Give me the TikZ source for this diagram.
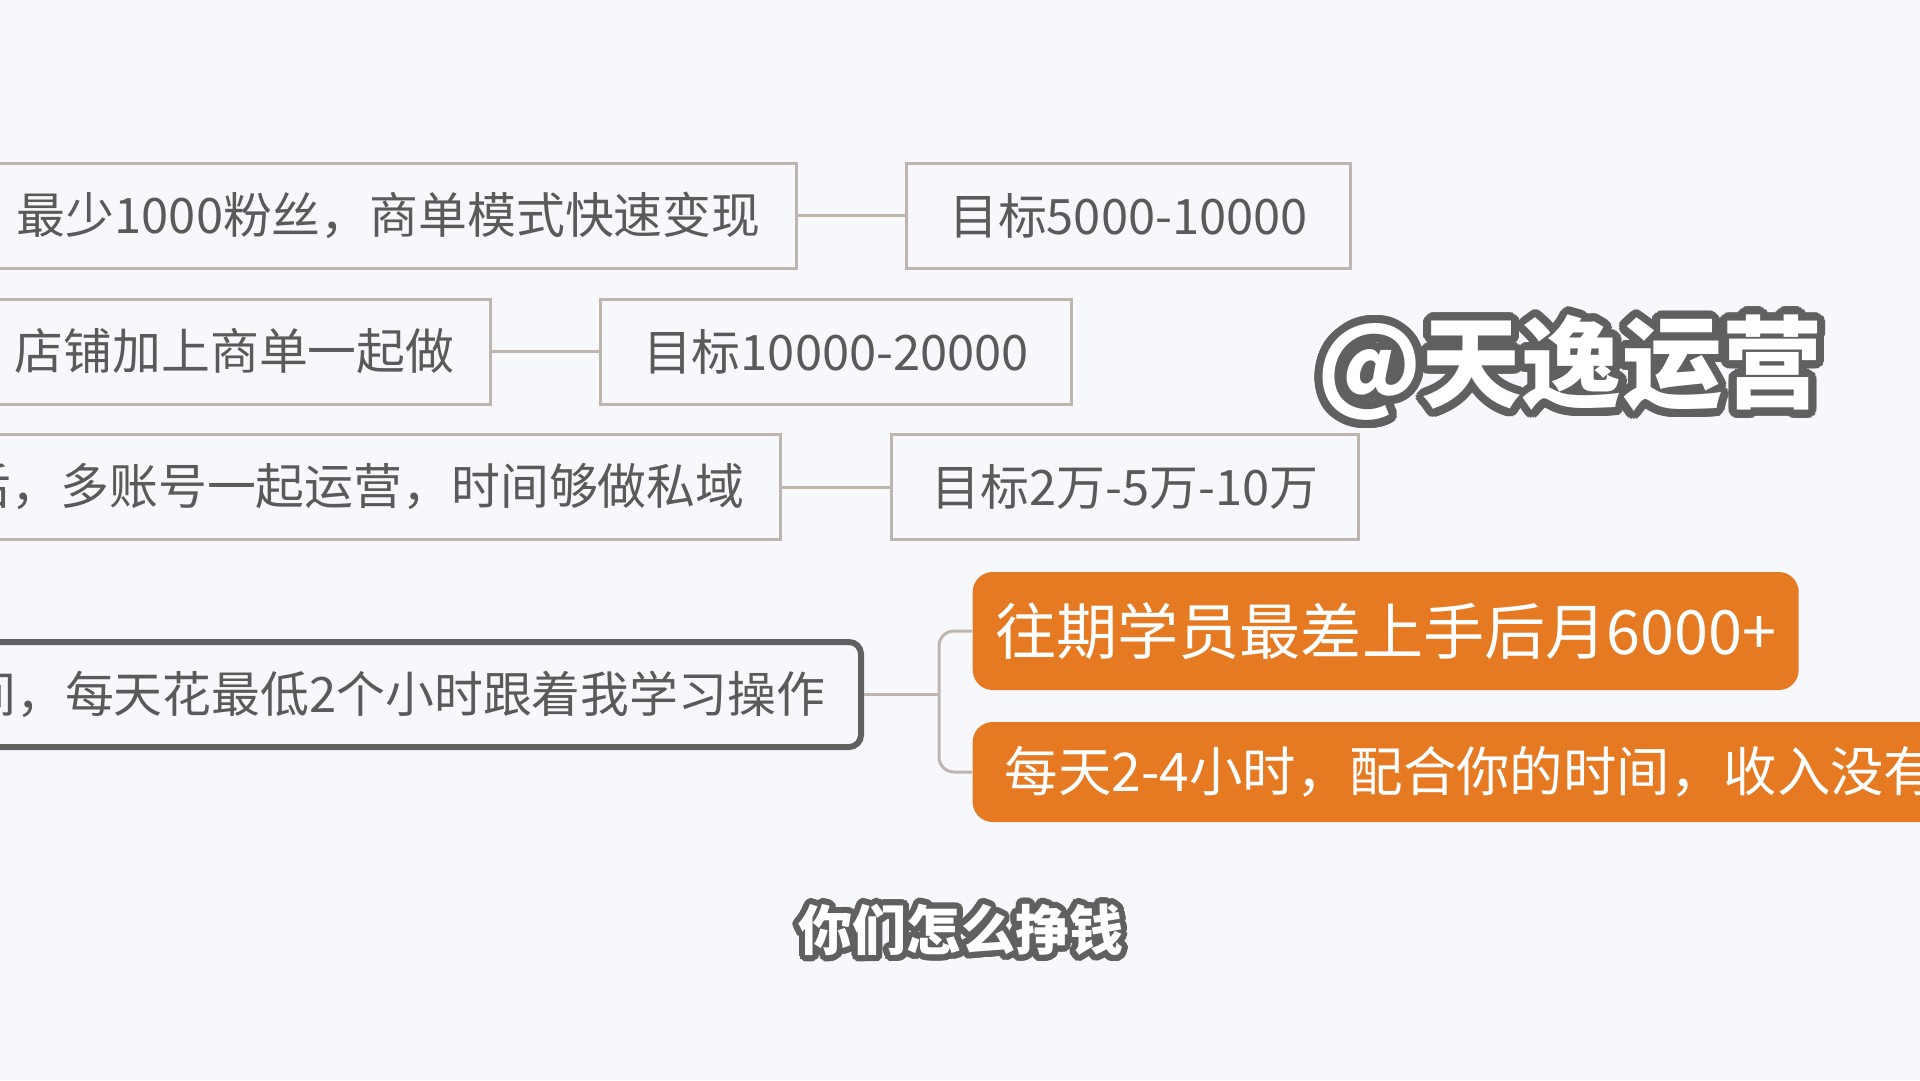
\documentclass[tikz,border=0pt]{standalone}
\usepackage{fontspec}
\setmainfont{Noto Sans CJK SC}
\usepackage{contour}
\contournumber{32}

\definecolor{bg}{HTML}{F7F8FC}
\definecolor{boxline}{HTML}{BFB5AF}
\definecolor{txt}{HTML}{5A5A5A}
\definecolor{dark}{HTML}{606060}
\definecolor{tag}{HTML}{E57A22}

\begin{document}
\begin{tikzpicture}[x=0.1mm,y=-0.1mm,
  leftbox/.style={draw=boxline,line width=0.3mm,fill=bg,text=txt,anchor=east,
    minimum height=10.5mm,inner xsep=3.6mm,text width=90mm,align=right,
    font=\fontsize{13.9pt}{16pt}\selectfont},
  goalbox/.style={draw=boxline,line width=0.3mm,fill=bg,text=txt,anchor=west,
    minimum height=10.5mm,inner xsep=0pt,font=\fontsize{13.9pt}{16pt}\selectfont},
  tagbox/.style={fill=tag,text=white,anchor=west,rounded corners=2mm},
  link/.style={draw=boxline,line width=0.3mm},
  glow/.style={text=white,font=\fontsize{#1}{#1}\selectfont\bfseries}]
  \useasboundingbox (0,0) rectangle (1920,1080);
  \clip (0,0) rectangle (1920,1080);
  \fill[bg] (0,0) rectangle (1920,1080);

  % Row 1
  \node[leftbox] (l1) at (798,215.5) {最少1000粉丝，商单模式快速变现};
  \node[goalbox,minimum width=44.4mm] (g1) at (905,215.5) {目标5000-10000};
  \draw[link] (l1.east) -- (g1.west);

  % Row 2
  \node[leftbox] (l2) at (492,351.5) {店铺加上商单一起做};
  \node[goalbox,minimum width=47.1mm] (g2) at (599,351.5) {目标10000-20000};
  \draw[link] (l2.east) -- (g2.west);

  % Row 3
  \node[leftbox] (l3) at (782,487) {后，多账号一起运营，时间够做私域};
  \node[goalbox,minimum width=46.7mm] (g3) at (890,487) {目标2万-5万-10万};
  \draw[link] (l3.east) -- (g3.west);

  % Row 4 (selected)
  \node[leftbox,draw=dark,line width=0.6mm,rounded corners=1.2mm] (l4) at (864,694.5)
    {间，每天花最低2个小时跟着我学习操作};
  \node[tagbox,minimum width=82.6mm,minimum height=11.8mm,
    font=\fontsize{17.4pt}{20pt}\selectfont] (o1) at (972,631) {往期学员最差上手后月6000+};
  \node[tagbox,minimum height=10mm,inner xsep=3.2mm,text width=104mm,align=left,
    font=\fontsize{15.2pt}{17pt}\selectfont] (o2) at (972,772) {每天2-4小时，配合你的时间，收入没有};
  \coordinate (fork) at (939,694.5);
  \draw[link] (l4.east) -- (fork);
  \draw[link,rounded corners=1.5mm] (fork) |- (o1.west);
  \draw[link,rounded corners=1.5mm] (fork) |- (o2.west);

  % Overlay texts
  \node[glow=28.5pt] (mark) at (1570,372) {\contourlength{2.3pt}\contour{dark}{@天逸运营}};
  \node[glow=15.4pt] (sub) at (961,933) {\contourlength{1.7pt}\contour{dark}{你们怎么挣钱}};
\end{tikzpicture}
\end{document}
